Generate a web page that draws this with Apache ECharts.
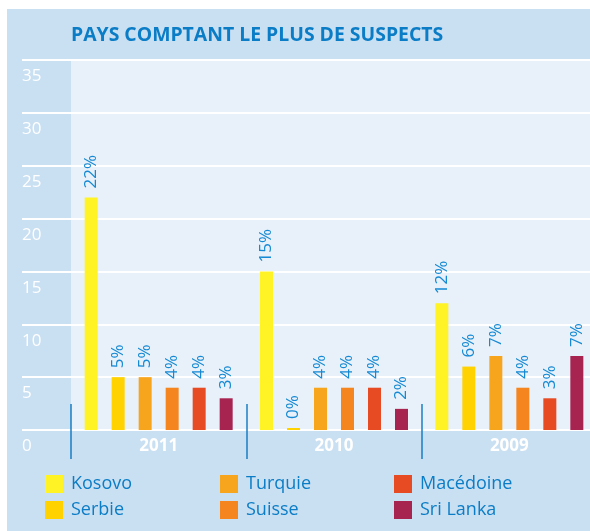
<!DOCTYPE html>
<html>
<head>
<meta charset="utf-8">
<script src="https://cdn.jsdelivr.net/npm/echarts@6/dist/echarts.min.js"></script>
<style>
  html, body { margin: 0; padding: 0; background: #fff; }
  #main { width: 590px; height: 531px; }
</style>
</head>
<body>
<div id="main"></div>
<script>
// années (catégories) et pays
var years = ['2011', '2010', '2009'];
var countries = ['Kosovo', 'Serbie', 'Turquie', 'Suisse', 'Macédoine', 'Sri Lanka'];
var countryColors = ['#fff325', '#ffd200', '#f8a51e', '#f5861f', '#e64b24', '#a82450'];

// parts en % par pays, dans l'ordre des années
var kosovo = [22, 15, 12];
var serbie = [5, 0, 6];
var turquie = [5, 4, 7];
var suisse = [4, 4, 4];
var macedoine = [4, 4, 3];
var sriLanka = [3, 2, 7];

var yTicks = { min: 0, max: 35, interval: 5 };

var values = [kosovo, serbie, turquie, suisse, macedoine, sriLanka];

var blue = '#0b7dc6';
var frame = '#c9dff2';
var plot = '#e8f1f9';
var font = 'Open Sans';

var myChart = echarts.init(document.getElementById('main'));

var mySeries = countries.map(function(name, i) {
  return {
    name: name,
    type: 'bar',
    xAxisIndex: 0,
    yAxisIndex: 0,
    barWidth: 13,
    barGap: '107.7%',
    barMinHeight: 2,
    itemStyle: { color: countryColors[i] },
    label: {
      show: true,
      position: 'top',
      rotate: 90,
      align: 'left',
      verticalAlign: 'middle',
      distance: 9,
      color: '#1589d4',
      fontFamily: font,
      fontSize: 17,
      formatter: '{c}%'
    },
    data: values[i]
  };
});

var option = {
  backgroundColor: '#fff',
  animation: false,
  graphic: [
    { type: 'rect', z: -20, shape: { x: 7, y: 9, width: 583, height: 522 }, style: { fill: frame } },
    { type: 'rect', z: -10, shape: { x: 71, y: 60, width: 519, height: 370 }, style: { fill: plot } }
  ],
  title: {
    text: 'PAYS COMPTANT LE PLUS DE SUSPECTS',
    left: 71,
    top: 26,
    padding: 0,
    textStyle: { color: blue, fontFamily: font, fontWeight: 'bold', fontSize: 19.4 }
  },
  legend: [
    { data: ['Kosovo', 'Serbie'], left: 45 },
    { data: ['Turquie', 'Suisse'], left: 220 },
    { data: ['Macédoine', 'Sri Lanka'], left: 394 }
  ].map(function(l) {
    return {
      data: l.data,
      left: l.left,
      top: 475,
      orient: 'vertical',
      padding: 0,
      itemWidth: 18,
      itemHeight: 18,
      itemGap: 8,
      itemStyle: { borderWidth: 0 },
      icon: 'rect',
      textStyle: { color: blue, fontFamily: font, fontSize: 18, padding: [0, 0, 0, 3] }
    };
  }),
  grid: [
    { left: 71, right: -7, top: 60, bottom: 101, outerBoundsMode: 'none' },
    { left: 22, right: 0, top: 60, bottom: 101 }
  ],
  xAxis: [
    {
      type: 'category',
      gridIndex: 0,
      data: years,
      position: 'bottom',
      axisLine: { show: false },
      axisTick: { show: true, length: 29, lineStyle: { color: '#1a7fc3', width: 1.5 } },
      axisLabel: { color: '#fff', fontFamily: font, fontWeight: 'bold', fontSize: 17, margin: 8 }
    },
    {
      type: 'category',
      gridIndex: 0,
      data: years,
      position: 'bottom',
      axisLine: { show: false },
      axisTick: { show: true, inside: true, length: 26, lineStyle: { color: '#1a7fc3', width: 1.5 } },
      axisLabel: { show: false }
    },
    { type: 'value', gridIndex: 1, min: 0, max: 1, show: false }
  ],
  yAxis: [
    { type: 'value', gridIndex: 0, min: yTicks.min, max: yTicks.max, interval: yTicks.interval, show: false },
    {
      type: 'value',
      gridIndex: 1,
      min: yTicks.min,
      max: yTicks.max,
      interval: yTicks.interval,
      axisLine: { show: false },
      axisTick: { show: false },
      splitLine: { show: true, lineStyle: { color: '#fff', width: 2 } },
      axisLabel: {
        inside: true,
        margin: 0,
        align: 'left',
        verticalAlign: 'top',
        padding: [8, 0, 0, 0],
        color: '#fff',
        fontFamily: font,
        fontSize: 17
      }
    }
  ],
  series: mySeries
};

myChart.setOption(option);
</script>
</body>
</html>
